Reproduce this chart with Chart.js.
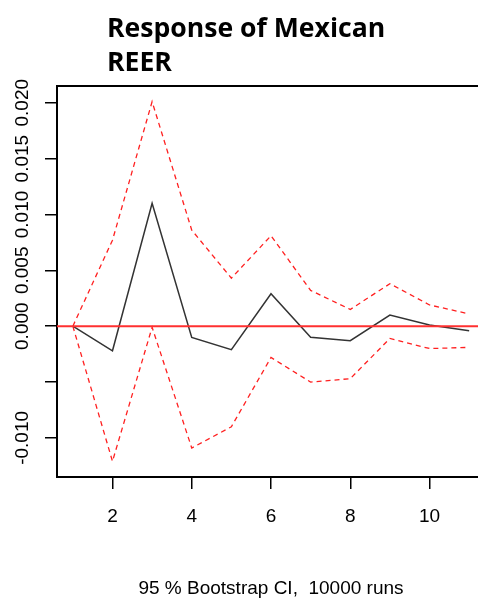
<!DOCTYPE html>
<html><head><meta charset="utf-8">
<script src="https://cdn.jsdelivr.net/npm/chart.js@4/dist/chart.umd.min.js"></script>
<style>html,body{margin:0;padding:0;background:#fff;overflow:hidden;width:478px;height:598px}</style>
</head><body>
<canvas id="c" width="486" height="598"></canvas>
<script>
const titleLines = ['Response of Mexican', 'REER'];
const xLabel = '95 % Bootstrap CI,  10000 runs';
const horizons = [1, 2, 3, 4, 5, 6, 7, 8, 9, 10, 11];
const irf   = [0, -0.0022, 0.0110, -0.0010, -0.0021, 0.0029, -0.0010, -0.0013, 0.0010, 0.0001, -0.0004];
const upper = [0, 0.0077, 0.0201, 0.0086, 0.0043, 0.0081, 0.0032, 0.0015, 0.0038, 0.0019, 0.0011];
const lower = [0, -0.0121, -0.0001, -0.0109, -0.0090, -0.0028, -0.0050, -0.0047, -0.0011, -0.0020, -0.0019];
const xTicks = [2, 4, 6, 8, 10];
const yTicks = [-0.010, -0.005, 0, 0.005, 0.010, 0.015, 0.020];
const yTickLabels = ['-0.010', '', '0.000', '0.005', '0.010', '0.015', '0.020'];
const xRange = [0.6, 11.4];
const yRange = [-0.0135, 0.0215];

const toPts = arr => horizons.map((h, i) => ({x: h, y: arr[i]}));

const framePlugin = {
  id: 'frame',
  afterDatasetsDraw(chart) {
    const {ctx, chartArea: a, scales: {y}} = chart;
    const y0 = y.getPixelForValue(0);
    ctx.save();
    ctx.strokeStyle = '#ff3030';
    ctx.lineWidth = 2;
    ctx.beginPath(); ctx.moveTo(a.left, y0); ctx.lineTo(a.right, y0); ctx.stroke();
    ctx.strokeStyle = '#000';
    ctx.lineWidth = 2;
    ctx.beginPath(); ctx.moveTo(a.left - 1, a.top); ctx.lineTo(a.right + 2, a.top); ctx.stroke();
    ctx.restore();
  },
  afterDraw(chart) {
    const {ctx} = chart;
    ctx.save();
    ctx.fillStyle = '#000';
    ctx.font = 'bold 26.6px "Open Sans"';
    ctx.textAlign = 'left';
    ctx.textBaseline = 'alphabetic';
    ctx.fillText(titleLines[0], 107, 37);
    ctx.fillText(titleLines[1], 107, 71);
    ctx.restore();
  }
};

new Chart(document.getElementById('c'), {
  type: 'line',
  data: {
    datasets: [
      {data: toPts(irf), borderColor: '#333333', borderWidth: 1.5, pointRadius: 0, tension: 0},
      {data: toPts(upper), borderColor: '#ff2020', borderWidth: 1.3, borderDash: [5, 4], pointRadius: 0, tension: 0},
      {data: toPts(lower), borderColor: '#ff2020', borderWidth: 1.3, borderDash: [5, 4], pointRadius: 0, tension: 0}
    ]
  },
  options: {
    responsive: false, animation: false, devicePixelRatio: 1,
    layout: {padding: {top: 86, right: 1, bottom: 0, left: 0}},
    plugins: {legend: {display: false}, tooltip: {enabled: false}, title: {display: false}},
    scales: {
      x: {
        type: 'linear', min: xRange[0], max: xRange[1],
        afterBuildTicks: s => { s.ticks = xTicks.map(v => ({value: v})); },
        afterFit: s => { s.height = 121; },
        grid: {drawOnChartArea: false, tickLength: 12, color: '#000', lineWidth: 1.5},
        border: {display: true, color: '#000', width: 2},
        ticks: {font: {family: 'Liberation Sans', size: 19}, color: '#000', padding: 16, maxRotation: 0,
                callback: v => String(v)},
        title: {display: true, text: xLabel, font: {family: 'Liberation Sans', size: 19}, color: '#000', padding: {top: 0, bottom: -2}}
      },
      y: {
        type: 'linear', min: yRange[0], max: yRange[1],
        afterBuildTicks: s => { s.ticks = yTicks.map(v => ({value: v})); },
        afterFit: s => { s.width = 57; },
        grid: {drawOnChartArea: false, tickLength: 12, color: '#000', lineWidth: 1.5},
        border: {display: true, color: '#000', width: 2},
        ticks: {font: {family: 'Liberation Sans', size: 19}, color: '#000', minRotation: 90, maxRotation: 90,
                crossAlign: 'center', padding: -5,
                callback: v => { const i = yTicks.findIndex(t => Math.abs(t - v) < 1e-9); return i >= 0 ? yTickLabels[i] : ''; }}
      }
    }
  },
  plugins: [framePlugin]
});
</script>
</body></html>
